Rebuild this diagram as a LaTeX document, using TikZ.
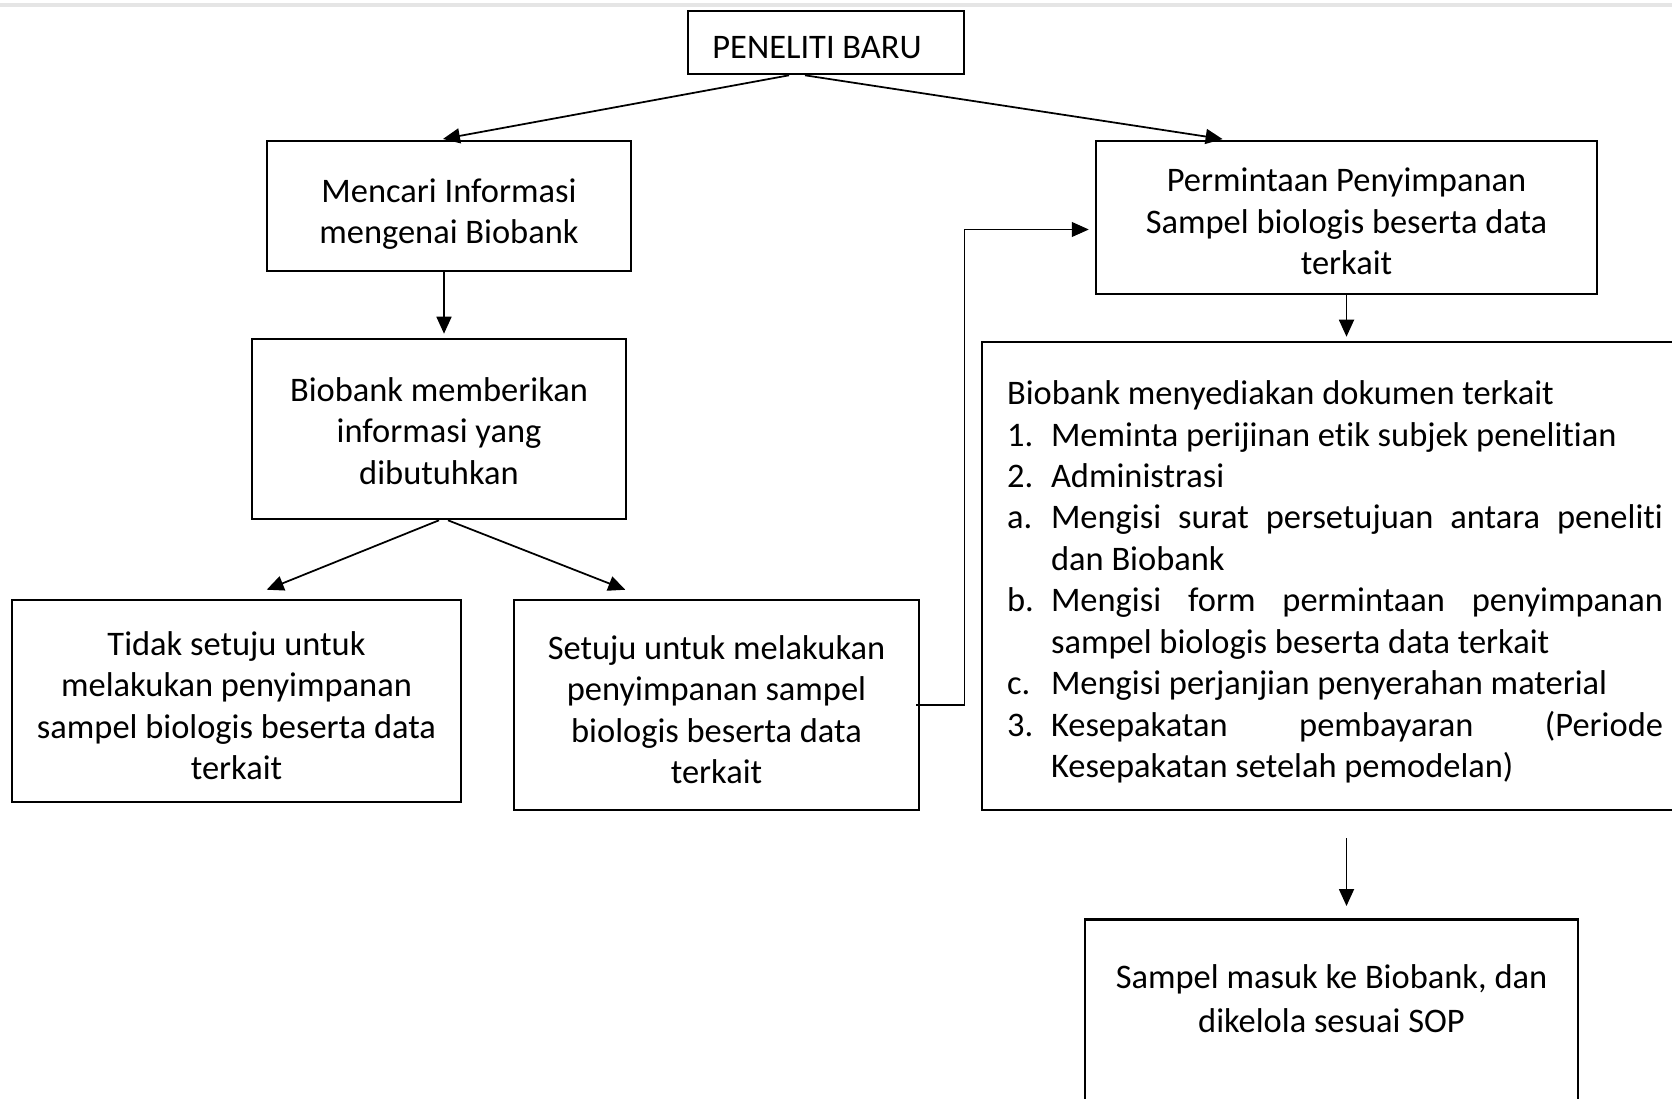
\documentclass[tikz,border=0pt]{standalone}
\usepackage{fontspec}
\setmainfont{Carlito}[Ligatures=NoCommon]
\usetikzlibrary{arrows.meta}
\newcommand{\butir}[2]{\par\noindent\hangindent=0.88cm\hangafter=1\makebox[0.88cm][l]{#1}#2}

\begin{document}
\begin{tikzpicture}[
  x=0.02cm, y=-0.02cm,
  every node/.style={font=\fontsize{19.6}{23.6}\selectfont},
  kotak/.style={draw, line width=1.5pt, align=center, inner sep=0pt},
  panah/.style={-{Triangle[length=0.34cm, width=0.3cm]}, line width=1pt, shorten >=0.08cm},
  siku/.style={-{Triangle[length=0.34cm, width=0.3cm]}, line width=0.6pt}
]
\clip (0,0) rectangle (1672,1098);
\fill[gray!20] (0,3) rectangle (1672,7);

\node[kotak, minimum width=5.52cm, minimum height=1.26cm, text height=0.64cm, text depth=0pt] (baru) at (826,42.5) {PENELITI BARU\hspace*{0.36cm}};

\node[kotak, minimum width=7.28cm, minimum height=2.6cm]  (cari)   at (449,206)   {\rule{0pt}{23pt}Mencari Informasi\\mengenai Biobank};
\node[kotak, minimum width=7.48cm, minimum height=3.6cm]  (beri)   at (439,429)   {\rule{0pt}{16pt}Biobank memberikan\\informasi yang\\dibutuhkan};
\node[kotak, minimum width=8.98cm, minimum height=4.04cm] (tolak)  at (236.5,701) {\rule{0pt}{19pt}Tidak setuju untuk\\melakukan penyimpanan\\sampel biologis beserta data\\terkait};
\node[kotak, minimum width=8.1cm, minimum height=4.2cm]   (setuju) at (716.5,705) {\rule{0pt}{19pt}Setuju untuk melakukan\\penyimpanan sampel\\biologis beserta data\\terkait};

\node[kotak, minimum width=10.02cm, minimum height=3.06cm] (minta) at (1346.5,217.5) {\rule{0pt}{18pt}Permintaan Penyimpanan\\Sampel biologis beserta data\\terkait};
\node[kotak, align=justify, text width=13.12cm, inner xsep=0.5cm, minimum height=9.36cm] (dokumen) at (1335,576)
  {\noindent\rule{0pt}{20.4pt}Biobank menyediakan dokumen terkait
   \butir{1.}{Meminta perijinan etik subjek penelitian}
   \butir{2.}{Administrasi}
   \butir{a.}{Mengisi surat persetujuan antara peneliti\linebreak dan Biobank}
   \butir{b.}{Mengisi form permintaan penyimpanan\linebreak sampel biologis beserta data terkait}
   \butir{c.}{Mengisi perjanjian penyerahan material}
   \butir{3.}{Kesepakatan pembayaran (Periode\linebreak Kesepakatan setelah pemodelan)}\par};
\node[kotak, anchor=north] (sop) at (1331.5,918)
  {\parbox[c][5cm][t]{9.86cm}{\centering\vspace*{0.9cm}Sampel masuk ke Biobank, dan\\[1.8pt]dikelola sesuai SOP}};

\draw[panah] ([xshift=-0.74cm]baru.south) -- ([xshift=-0.2cm]cari.north);
\draw[panah] ([xshift=-0.42cm]baru.south) -- ([xshift=-2.4cm]minta.north);
\draw[panah] ([xshift=-0.1cm]cari.south) -- ([xshift=-0.1cm]cari.south |- beri.north);
\draw[panah] (beri.south) -- ([xshift=0.53cm, yshift=0.15cm]tolak.north);
\draw[panah] ([xshift=0.18cm]beri.south) -- ([xshift=-1.75cm, yshift=0.15cm]setuju.north);
\draw[siku, shorten >=0.12cm] ([xshift=-0.08cm]setuju.east) -- ++(48,0) |- ([yshift=-0.24cm]minta.west);
\draw[panah] (minta.south) -- (minta.south |- dokumen.north);
\draw[panah, shorten <=0.54cm, shorten >=0.24cm] (minta.south |- dokumen.south) -- (minta.south |- sop.north);

\end{tikzpicture}
\end{document}
